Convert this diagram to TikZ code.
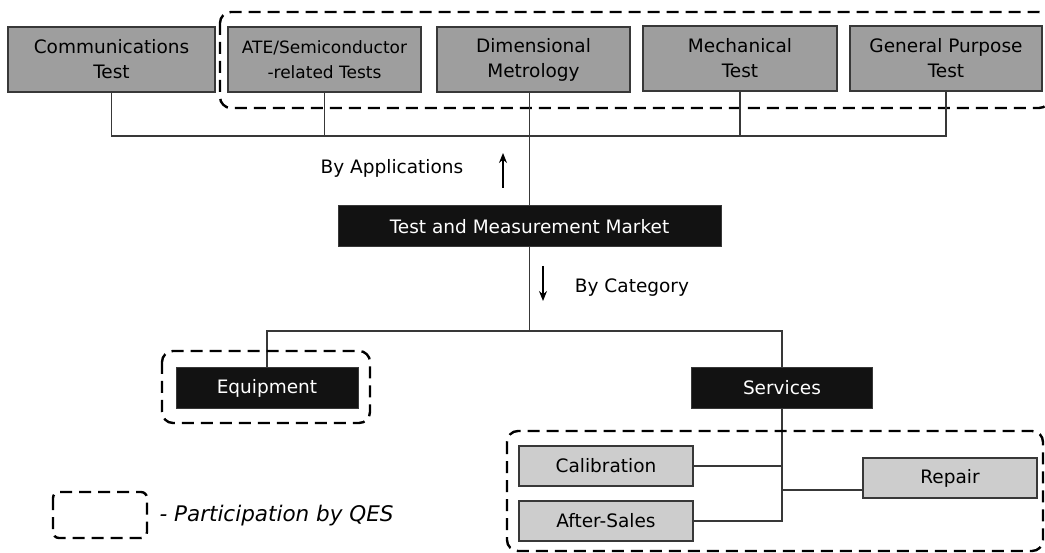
\documentclass[tikz,border=0pt]{standalone}
\usepackage{fontspec}
\setmainfont{DejaVu Sans}
\usepackage{tikz}
\usetikzlibrary{positioning, arrows.meta, calc}
\definecolor{appgray}{HTML}{9E9E9E}
\definecolor{subgray}{HTML}{CDCDCD}
\definecolor{edgegray}{HTML}{383838}
\newcommand{\boxfont}{\fontsize{18.5}{25}\selectfont}

\begin{document}
\begin{tikzpicture}[x=1pt, y=-1pt,
  appbox/.style={draw=edgegray, line width=1.6pt, fill=appgray, inner sep=0pt, minimum height=65pt, align=center, font=\boxfont},
  catbox/.style={draw=edgegray, line width=1pt, fill=black!93, text=white, inner sep=0pt, minimum height=41pt, font=\boxfont},
  subbox/.style={draw=edgegray, line width=1.6pt, fill=subgray, inner sep=0pt, minimum width=174pt, minimum height=40pt, font=\boxfont},
  qes/.style={dashed, dash pattern=on 12pt off 7pt, line width=2.4pt, rounded corners=11pt},
  link/.style={draw=edgegray, line width=1.2pt},
  hint/.style={line width=1.3pt, -{Stealth[length=10pt, width=8pt]}}]
  \useasboundingbox (0,0) rectangle (1045,553);
  % applications
  \node[appbox, minimum width=207pt] (comm) at (111.5,59.5) {Communications\\Test};
  \node[appbox, minimum width=193pt, font=\fontsize{17}{25}\selectfont] (ate) at (324.5,59.5) {ATE/Semiconductor\\-related Tests};
  \node[appbox, minimum width=193pt] (dim) at (533.5,59.5) {Dimensional\\Metrology};
  \node[appbox, minimum width=194pt] (mech) at (740,58.5) {Mechanical\\Test};
  \node[appbox, minimum width=192pt] (gp) at (946,58.5) {General Purpose\\Test};
  \draw[qes] (220,12) rectangle (1050,108);
  % market
  \node[catbox, minimum width=383pt] (market) at (529.5,226.5) {Test and Measurement Market};
  \coordinate (appbar) at (0,136);
  \draw[link] (comm.south) -- (comm.south |- appbar) -- (gp.south |- appbar) -- (gp.south);
  \foreach \n in {ate, mech} { \draw[link] (\n.south) -- (\n.south |- appbar); }
  \draw[link] (market.north) -- (market.north |- dim.south);
  \node[font=\boxfont] (byapp) at (392,168) {By Applications};
  \draw[hint] (503,188) -- (503,153);
  \node[font=\boxfont] (bycat) at (632,288) {By Category};
  \draw[hint] (543,266) -- (543,301);
  % categories
  \node[catbox, minimum width=182pt] (equip) at (267,388) {Equipment};
  \node[catbox, minimum width=181pt] (serv) at (782,388) {Services};
  \coordinate (catbar) at (0,331);
  \draw[link] (market.south) -- (market.south |- catbar);
  \draw[link] (equip.north) -- (equip.north |- catbar) -- (serv.north |- catbar) -- (serv.north);
  \draw[qes] (162,351) rectangle (370,423);
  % services
  \node[subbox] (cal) at (606,466) {Calibration};
  \node[subbox] (after) at (606,521) {After-Sales};
  \node[subbox] (rep) at (950,478) {Repair};
  \draw[link] (serv.south) -- (serv.south |- after.east) -- (after.east);
  \draw[link] (cal.east) -- (cal.east -| serv.south);
  \draw[link] ([yshift=-12pt]rep.west) -- ([yshift=-12pt]rep.west -| serv.south);
  \draw[qes] (507,431) rectangle (1043,551);
  % legend
  \draw[qes, rounded corners=6pt] (53,492) rectangle (147,538);
  \node[anchor=west, font=\fontsize{21.5}{26}\selectfont\itshape] (legend) at (156,516) {- Participation by QES};
\end{tikzpicture}
\end{document}
